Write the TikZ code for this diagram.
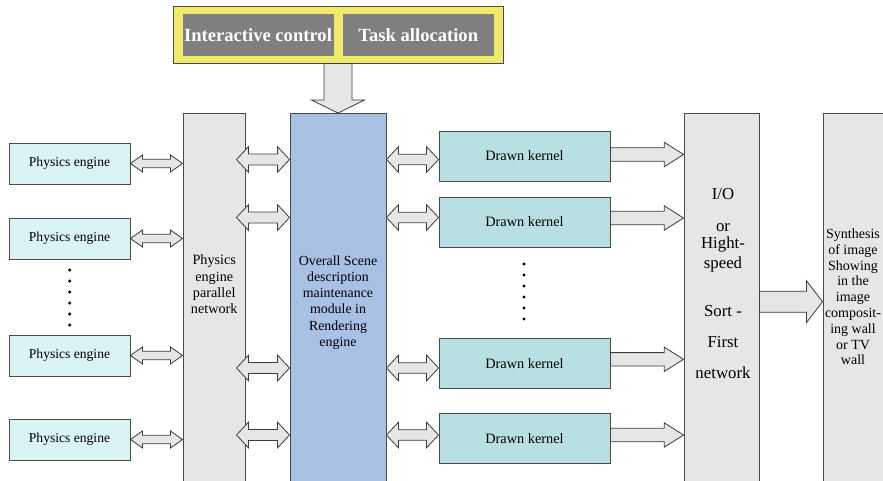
\documentclass[tikz,border=0pt]{standalone}
\usepackage{fontspec}
\setmainfont{Liberation Serif}
\usetikzlibrary{calc}

\definecolor{engfill}{HTML}{DAF3F3}
\definecolor{kernfill}{HTML}{B8DFE2}
\definecolor{netfill}{HTML}{E6E6E6}
\definecolor{scenefill}{HTML}{A8C0E4}
\definecolor{ctrlfill}{HTML}{F0EA6C}
\definecolor{tabfill}{HTML}{7F7F7F}
\definecolor{edge}{HTML}{4A4A4A}
\definecolor{arrowedge}{HTML}{3C3C3C}

\tikzset{
  box/.style={draw=edge, line width=0.9pt, inner sep=0pt, align=center},
  engine/.style={box, fill=engfill, minimum width=121pt, minimum height=41pt,
    font=\fontsize{13.6}{16}\selectfont},
  kernel/.style={box, fill=kernfill, minimum width=171pt, minimum height=50pt,
    font=\fontsize{14.3}{16}\selectfont},
  tall/.style={box, minimum height=376.5pt},
  tab/.style={inner sep=0pt, fill=tabfill, text=white, minimum height=42pt,
    font=\fontsize{18.6}{20}\selectfont\bfseries},
  label/.style={inner sep=0pt, align=center},
  arr/.style={draw=arrowedge, fill=netfill, line width=0.8pt, line join=miter},
}

% block arrow with heads at both ends: start, end, shaft half width,
% head half width, head length (horizontal, at the height of the start)
\newcommand{\twoway}[5]{%
  \draw[arr] let \p1=(#1), \p2=(#2) in
    (\x1,\y1) -- (\x1+#5pt,\y1+#4pt) -- (\x1+#5pt,\y1+#3pt)
    -- (\x2-#5pt,\y1+#3pt) -- (\x2-#5pt,\y1+#4pt) -- (\x2,\y1)
    -- (\x2-#5pt,\y1-#4pt) -- (\x2-#5pt,\y1-#3pt)
    -- (\x1+#5pt,\y1-#3pt) -- (\x1+#5pt,\y1-#4pt) -- cycle;}

% block arrow with a single head at the end
\newcommand{\oneway}[5]{%
  \draw[arr] let \p1=(#1), \p2=(#2) in
    (\x1,\y1+#3pt) -- (\x2-#5pt,\y1+#3pt) -- (\x2-#5pt,\y1+#4pt)
    -- (\x2,\y1) -- (\x2-#5pt,\y1-#4pt) -- (\x2-#5pt,\y1-#3pt)
    -- (\x1,\y1-#3pt) -- cycle;}

\begin{document}
\begin{tikzpicture}[x=1pt, y=-1pt]
  \useasboundingbox (0,0) rectangle (883,480);
  \clip (0,0) rectangle (883,480);
  \fill[white] (0,0) rectangle (883,480);

  % control panel on top
  \node[box, fill=ctrlfill, minimum width=330pt, minimum height=57pt] (ctrl) at (338,34.5) {};
  \node[tab, minimum width=151pt] (ic) at (258,35) {Interactive control};
  \node[tab, minimum width=150.5pt] (ta) at (418.25,35) {Task allocation};

  % physics engines
  \node[engine] (pe1) at (69.5,163.5) {Physics engine};
  \node[engine] (pe2) at (69.5,238.5) {Physics engine};
  \node[engine] (pe3) at (69.5,355.5) {Physics engine};
  \node[engine] (pe4) at (69.5,439.5) {Physics engine};

  % tall columns
  \node[tall, fill=netfill, minimum width=62.5pt] (pnet) at (214.25,301.75) {};
  \node[tall, fill=scenefill, minimum width=96pt] (scene) at (338,301.75) {};
  \node[tall, fill=netfill, minimum width=75pt] (io) at (721.5,301.75) {};
  \node[tall, fill=netfill, minimum width=70pt] (syn) at (858,301.75) {};

  \node[label, font=\fontsize{14.2}{16.3}\selectfont] (pnettext) at (214.25,284.5)
    {Physics\\engine\\parallel\\network};
  \node[label, font=\fontsize{13.9}{16.3}\selectfont] (scenetext) at (338,302.5)
    {Overall Scene\\description\\maintenance\\module in\\Rendering\\engine};
  \node[label, font=\fontsize{16.8}{17}\selectfont] (iotext) at (723,283.5)
    {I/O\\[15pt]or\\Hight-\\[3pt]speed\\[31pt]Sort -\\[14pt]First\\[14pt]network};
  \node[label, font=\fontsize{14}{15.8}\selectfont] (syntext) at (853,297)
    {Synthesis\\of image\\Showing\\in the\\image\\composit-\\ing wall\\or TV\\wall};

  % drawing kernels
  \node[kernel] (k1) at (524.5,156) {Drawn kernel};
  \node[kernel] (k2) at (524.5,222) {Drawn kernel};
  \node[kernel] (k3) at (524.5,363.5) {Drawn kernel};
  \node[kernel] (k4) at (524.5,438.5) {Drawn kernel};

  % rows of the links around the scene module and the kernel outputs
  \coordinate (r1) at (0,159.5);
  \coordinate (r2) at (0,217.5);
  \coordinate (r3) at (0,368);
  \coordinate (r4) at (0,435);
  \coordinate (o1) at (0,154.5);
  \coordinate (o2) at (0,218);
  \coordinate (o3) at (0,359.3);
  \coordinate (o4) at (0,435);

  % engines <-> parallel network
  \foreach \i in {1,...,4}{
    \twoway{pe\i.east}{pnet.west |- pe\i.east}{4.2}{8.5}{12}
  }

  % parallel network <-> scene module <-> kernels
  \foreach \i in {1,...,4}{
    \twoway{$(pnet.east |- r\i)+(-9.5,0)$}{scene.west |- r\i}{5.5}{12.8}{12}
    \twoway{scene.east |- r\i}{k\i.west |- r\i}{5.2}{12.8}{12}
  }

  % kernels -> I/O network
  \foreach \i in {1,...,4}{
    \oneway{k\i.east |- o\i}{io.west |- o\i}{6.7}{12.2}{19.3}
  }

  % I/O network -> compositing wall
  \coordinate (o5) at (0,301.7);
  \oneway{io.east |- o5}{syn.west |- o5}{10.5}{20.8}{16}

  % control panel -> scene module
  \draw[arr] let \p1=(ctrl.south), \p2=(scene.north) in
    (\x1-14pt,\y1) -- (\x1-14pt,\y2+13pt) -- (\x1-26.5pt,\y2+13pt)
    -- (\x1,\y2) -- (\x1+26.5pt,\y2+13pt) -- (\x1+14pt,\y2+13pt)
    -- (\x1+14pt,\y1) -- cycle;

  % ellipsis dots
  \foreach \k in {0,...,5}{
    \fill[black] (69.7,270+11*\k) circle (1.7pt);
    \fill[black] (524,264+11*\k) circle (1.7pt);
  }
\end{tikzpicture}
\end{document}
